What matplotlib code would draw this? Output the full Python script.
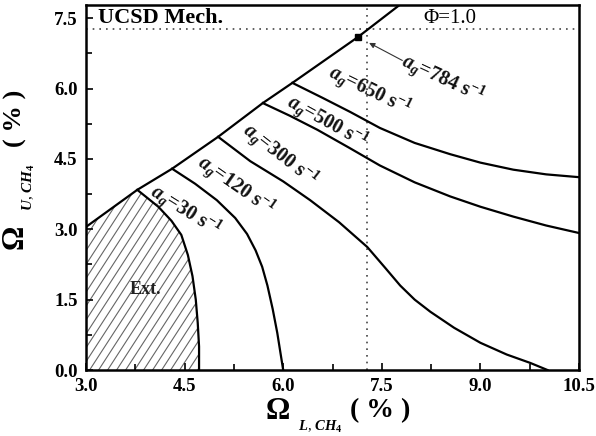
import matplotlib
matplotlib.use('Agg')
import matplotlib.pyplot as plt
import numpy as np
from matplotlib.patches import Polygon

plt.rcParams['font.family'] = ['Liberation Serif', 'DejaVu Serif']
plt.rcParams['mathtext.fontset'] = 'custom'
plt.rcParams['mathtext.rm'] = 'Liberation Serif:bold'
plt.rcParams['mathtext.it'] = 'Liberation Serif:italic:bold'
plt.rcParams['mathtext.bf'] = 'Liberation Serif:bold'

# ---- data ----
# upper flammability boundary (diagonal)
diag_x = [3.0, 3.78, 4.31, 5.01, 5.69, 6.14, 7.14, 7.77]
diag_y = [3.05, 3.84, 4.29, 4.97, 5.69, 6.12, 7.10, 7.78]

c30_x = [3.78, 4.10, 4.30, 4.45, 4.55, 4.62, 4.67, 4.70, 4.72, 4.72]
c30_y = [3.84, 3.48, 3.18, 2.88, 2.45, 2.00, 1.50, 1.00, 0.50, 0.0]

c120_x = [4.31, 4.66, 4.99, 5.27, 5.45, 5.58, 5.68, 5.76, 5.84, 5.91, 5.96, 6.00]
c120_y = [4.29, 3.97, 3.62, 3.24, 2.90, 2.55, 2.20, 1.80, 1.30, 0.79, 0.35, 0.0]

c300_x = [5.01, 5.50, 6.00, 6.41, 6.85, 7.28, 7.55, 7.78, 8.00, 8.24, 8.60, 9.00, 9.40, 9.76, 10.02]
c300_y = [4.97, 4.45, 4.02, 3.62, 3.15, 2.62, 2.18, 1.80, 1.50, 1.24, 0.90, 0.58, 0.33, 0.15, 0.0]

c500_x = [5.69, 6.10, 6.52, 7.00, 7.47, 8.00, 8.54, 9.00, 9.50, 10.00, 10.5]
c500_y = [5.69, 5.42, 5.12, 4.74, 4.36, 4.00, 3.70, 3.48, 3.27, 3.08, 2.92]

c650_x = [6.14, 6.60, 7.02, 7.47, 8.00, 8.54, 9.00, 9.50, 10.00, 10.5]
c650_y = [6.12, 5.80, 5.50, 5.16, 4.84, 4.60, 4.42, 4.27, 4.17, 4.11]

contour_x = [c30_x, c120_x, c300_x, c500_x, c650_x]
contour_y = [c30_y, c120_y, c300_y, c500_y, c650_y]

strain_labels = ['30', '120', '300', '500', '650', '784']
label_x = [4.51, 5.28, 5.95, 6.67, 7.31, 8.43]
label_y = [3.41, 3.94, 4.58, 5.29, 5.95, 6.20]
label_rot = [-32, -35, -38, -29, -26, -25]

point_784 = (7.14, 7.10)
arrow_tail = (7.85, 6.57)
arrow_head = (7.27, 7.00)

phi_y = 7.27
phi_x = 7.28

x_ticks = [3.0, 4.5, 6.0, 7.5, 9.0, 10.5]
y_ticks = [0.0, 1.5, 3.0, 4.5, 6.0, 7.5]

# ---- figure ----
W, H = 596, 436
fig = plt.figure(figsize=(W / 100, H / 100), dpi=100)
ax = fig.add_axes([86 / W, 1 - 370 / H, (579 - 86) / W, (370 - 5) / H])
ax.set_xlim(3.0, 10.5)
ax.set_ylim(0.0, 7.78)

# extinction region hatch
ext_verts = [(3.0, 0.0)] + list(zip(diag_x[:2], diag_y[:2])) + list(zip(c30_x[1:], c30_y[1:]))
poly = Polygon(ext_verts, closed=True, facecolor='none', edgecolor='none')
ax.add_patch(poly)
slope = 2.16
for x0 in np.arange(1.0, 5.0, 0.137):
    ln, = ax.plot([x0, x0 + 5 / slope], [0, 5], color='#666666', lw=0.8, zorder=1)
    ln.set_clip_path(poly)

# boundary and contours
ax.plot(diag_x, diag_y, color='black', lw=1.6, zorder=3, solid_joinstyle='round')
for cx, cy in zip(contour_x, contour_y):
    ax.plot(cx, cy, color='black', lw=1.6, zorder=3, solid_joinstyle='round')

# dotted reference lines
ax.axhline(phi_y, color='#444444', lw=1.2, ls=(0, (1, 3)), zorder=2)
ax.axvline(phi_x, color='#444444', lw=1.2, ls=(0, (1, 3)), zorder=2)

ax.plot([point_784[0]], [point_784[1]], 's', color='black', ms=5, zorder=4)
ax.annotate('', xy=arrow_head, xytext=arrow_tail,
            arrowprops=dict(arrowstyle='-|>', color='#333333', lw=0.8, mutation_scale=8))

for s, lx, ly, r in zip(strain_labels, label_x, label_y, label_rot):
    ax.text(lx, ly, r'$a_{g}$=' + s + r' s$^{-1}$', rotation=r, rotation_mode='anchor',
            ha='center', va='center', fontsize=14.5, fontweight='bold', color='#111111', zorder=5)

ax.text(0.024, 0.951, 'UCSD Mech.', transform=ax.transAxes, fontsize=16,
        fontweight='bold', va='baseline', ha='left')
ax.text(0.684, 0.951, 'Φ=1.0', transform=ax.transAxes, fontsize=15,
        va='baseline', ha='left')
ax.text(3.91, 1.71, 'Ext.', fontsize=13, fontweight='bold', ha='center', va='center', color='#222222')

# ticks
ax.set_xticks(x_ticks)
ax.set_yticks(y_ticks)
ax.set_xticks(np.arange(3.75, 10.5, 1.5), minor=True)
ax.set_yticks(np.arange(0.75, 7.6, 1.5), minor=True)
ax.set_xticklabels([f'{v:.1f}' for v in x_ticks])
ax.set_yticklabels([f'{v:.1f}' for v in y_ticks])
ax.tick_params(which='both', direction='in', top=False, right=False, width=1.2)
ax.tick_params(which='major', length=5, labelsize=13.5, pad=6)
ax.tick_params(which='minor', length=4)
for lab in ax.get_xticklabels() + ax.get_yticklabels():
    lab.set_fontweight('bold')
for sp in ax.spines.values():
    sp.set_linewidth(1.8)

# axis titles
fig.text(278 / W, 1 - 411 / H, 'Ω', fontsize=22, fontweight='bold', ha='center', va='center')
fig.text(320 / W, 1 - 427 / H, r'$L$, $CH_4$', fontsize=10.5, ha='center', va='center')
fig.text(380 / W, 1 - 411 / H, '( % )', fontsize=20, fontweight='bold', ha='center', va='center')

fig.text(15 / W, 1 - 237 / H, 'Ω', fontsize=22, fontweight='bold', ha='center', va='center', rotation=90)
fig.text(29 / W, 1 - 187 / H, r'$U$, $CH_4$', fontsize=11, ha='center', va='center', rotation=90)
fig.text(15 / W, 1 - 118 / H, '( % )', fontsize=19, fontweight='bold', ha='center', va='center', rotation=90)

fig.savefig('out.png', dpi=100)
